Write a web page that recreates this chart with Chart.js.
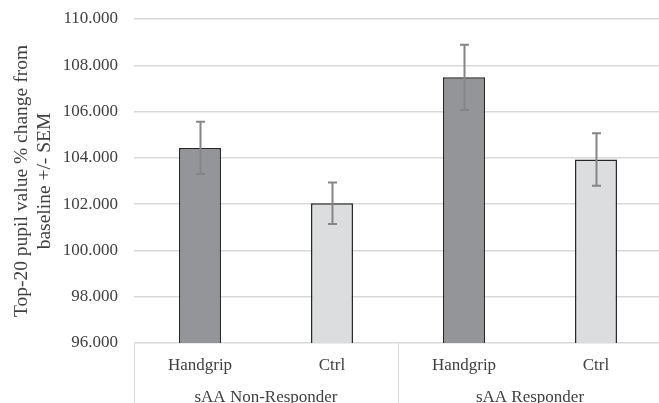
<!DOCTYPE html>
<html>
<head>
<meta charset="utf-8">
<script src="https://cdn.jsdelivr.net/npm/chart.js@4"></script>
<style>
  html, body { margin: 0; padding: 0; overflow: hidden; background: #fff; }
  #wrap { position: absolute; left: 0; top: 0; width: 662px; height: 423px; }
</style>
</head>
<body>
<div id="wrap"><canvas id="chart"></canvas></div>
<script>
// data
var groups = ["sAA Non-Responder", "sAA Responder"];
var conditions = ["Handgrip", "Ctrl"];
var means = [104.43, 102.04, 107.48, 103.93];
var sems = [1.13, 0.90, 1.41, 1.13];
var yTicks = [96, 98, 100, 102, 104, 106, 108, 110];

var barColors = ["#939598", "#dcdddf", "#939598", "#dcdddf"];
var labels = [];
for (var g = 0; g < groups.length; g++) {
  for (var c = 0; c < conditions.length; c++) labels.push(conditions[c]);
}

var serif = "'Liberation Serif', 'Times New Roman', serif";
var textColor = "#404040";
var lineColor = "#d9d9d9";

// error bars, drawn from the y scale
var errorBars = {
  id: "errorBars",
  afterDatasetsDraw: function(chart) {
    var ctx = chart.ctx;
    var meta = chart.getDatasetMeta(0);
    var y = chart.scales.y;
    ctx.save();
    ctx.strokeStyle = "#858585";
    ctx.lineWidth = 2;
    meta.data.forEach(function(bar, i) {
      var x = Math.round(bar.x) + 0.5;
      var top = y.getPixelForValue(means[i] + sems[i]);
      var bot = y.getPixelForValue(means[i] - sems[i]);
      ctx.beginPath();
      ctx.moveTo(x, top); ctx.lineTo(x, bot);
      ctx.moveTo(x - 4.5, top); ctx.lineTo(x + 4.5, top);
      ctx.moveTo(x - 4.5, bot); ctx.lineTo(x + 4.5, bot);
      ctx.stroke();
    });
    ctx.restore();
  }
};

// group separators in the category box under the plot
var groupBox = {
  id: "groupBox",
  afterDraw: function(chart) {
    var ctx = chart.ctx;
    var x = chart.scales.x;
    var half = (x.getPixelForValue(1) - x.getPixelForValue(0)) / 2;
    var top = chart.chartArea.bottom;
    ctx.save();
    ctx.strokeStyle = lineColor;
    ctx.lineWidth = 1;
    for (var g = 0; g <= groups.length; g++) {
      var idx = g * conditions.length;
      var px = idx < labels.length ? x.getPixelForValue(idx) - half : x.getPixelForValue(labels.length - 1) + half;
      px = Math.round(px) + 0.5;
      ctx.beginPath();
      ctx.moveTo(px, top);
      ctx.lineTo(px, chart.height);
      ctx.stroke();
    }
    ctx.restore();
  }
};

new Chart(document.getElementById("chart"), {
  type: "bar",
  data: {
    labels: labels,
    datasets: [{
      data: means,
      backgroundColor: barColors,
      borderColor: "#262626",
      borderWidth: 1.5,
      barPercentage: 0.318,
      categoryPercentage: 1
    }]
  },
  options: {
    responsive: true,
    maintainAspectRatio: false,
    animation: false,
    layout: { padding: { top: 19, right: 0, bottom: 0, left: 0 } },
    plugins: { legend: { display: false }, tooltip: { enabled: false } },
    scales: {
      y: {
        min: 96,
        max: 110,
        afterBuildTicks: function(axis) {
          axis.ticks = yTicks.map(function(v) { return { value: v }; });
        },
        afterFit: function(axis) {
          axis.width = 134;
          axis.paddingTop = 0;
          axis.paddingBottom = 0;
        },
        grid: { color: lineColor, lineWidth: 1.5, drawTicks: false },
        border: { display: false },
        ticks: {
          padding: 16,
          color: textColor,
          font: { family: serif, size: 17 },
          callback: function(v) { return v.toFixed(3); }
        },
        title: {
          display: true,
          text: ["Top-20 pupil value % change from", "baseline +/- SEM"],
          color: textColor,
          font: { family: serif, size: 19.5, lineHeight: 1.2 },
          padding: { top: 10, bottom: 0 }
        }
      },
      x: {
        weight: 0,
        offset: true,
        afterFit: function(axis) { axis.height = 36; },
        grid: { display: false },
        border: { display: false },
        ticks: {
          padding: 4,
          color: textColor,
          maxRotation: 0,
          autoSkip: false,
          font: { family: serif, size: 17 }
        }
      },
      x2: {
        type: "category",
        position: "bottom",
        weight: 1,
        labels: groups,
        offset: true,
        afterFit: function(axis) { axis.height = 44; },
        grid: { display: false },
        border: { display: false },
        ticks: {
          padding: 0,
          color: textColor,
          maxRotation: 0,
          autoSkip: false,
          font: { family: serif, size: 17 }
        }
      }
    }
  },
  plugins: [errorBars, groupBox]
});
</script>
</body>
</html>
